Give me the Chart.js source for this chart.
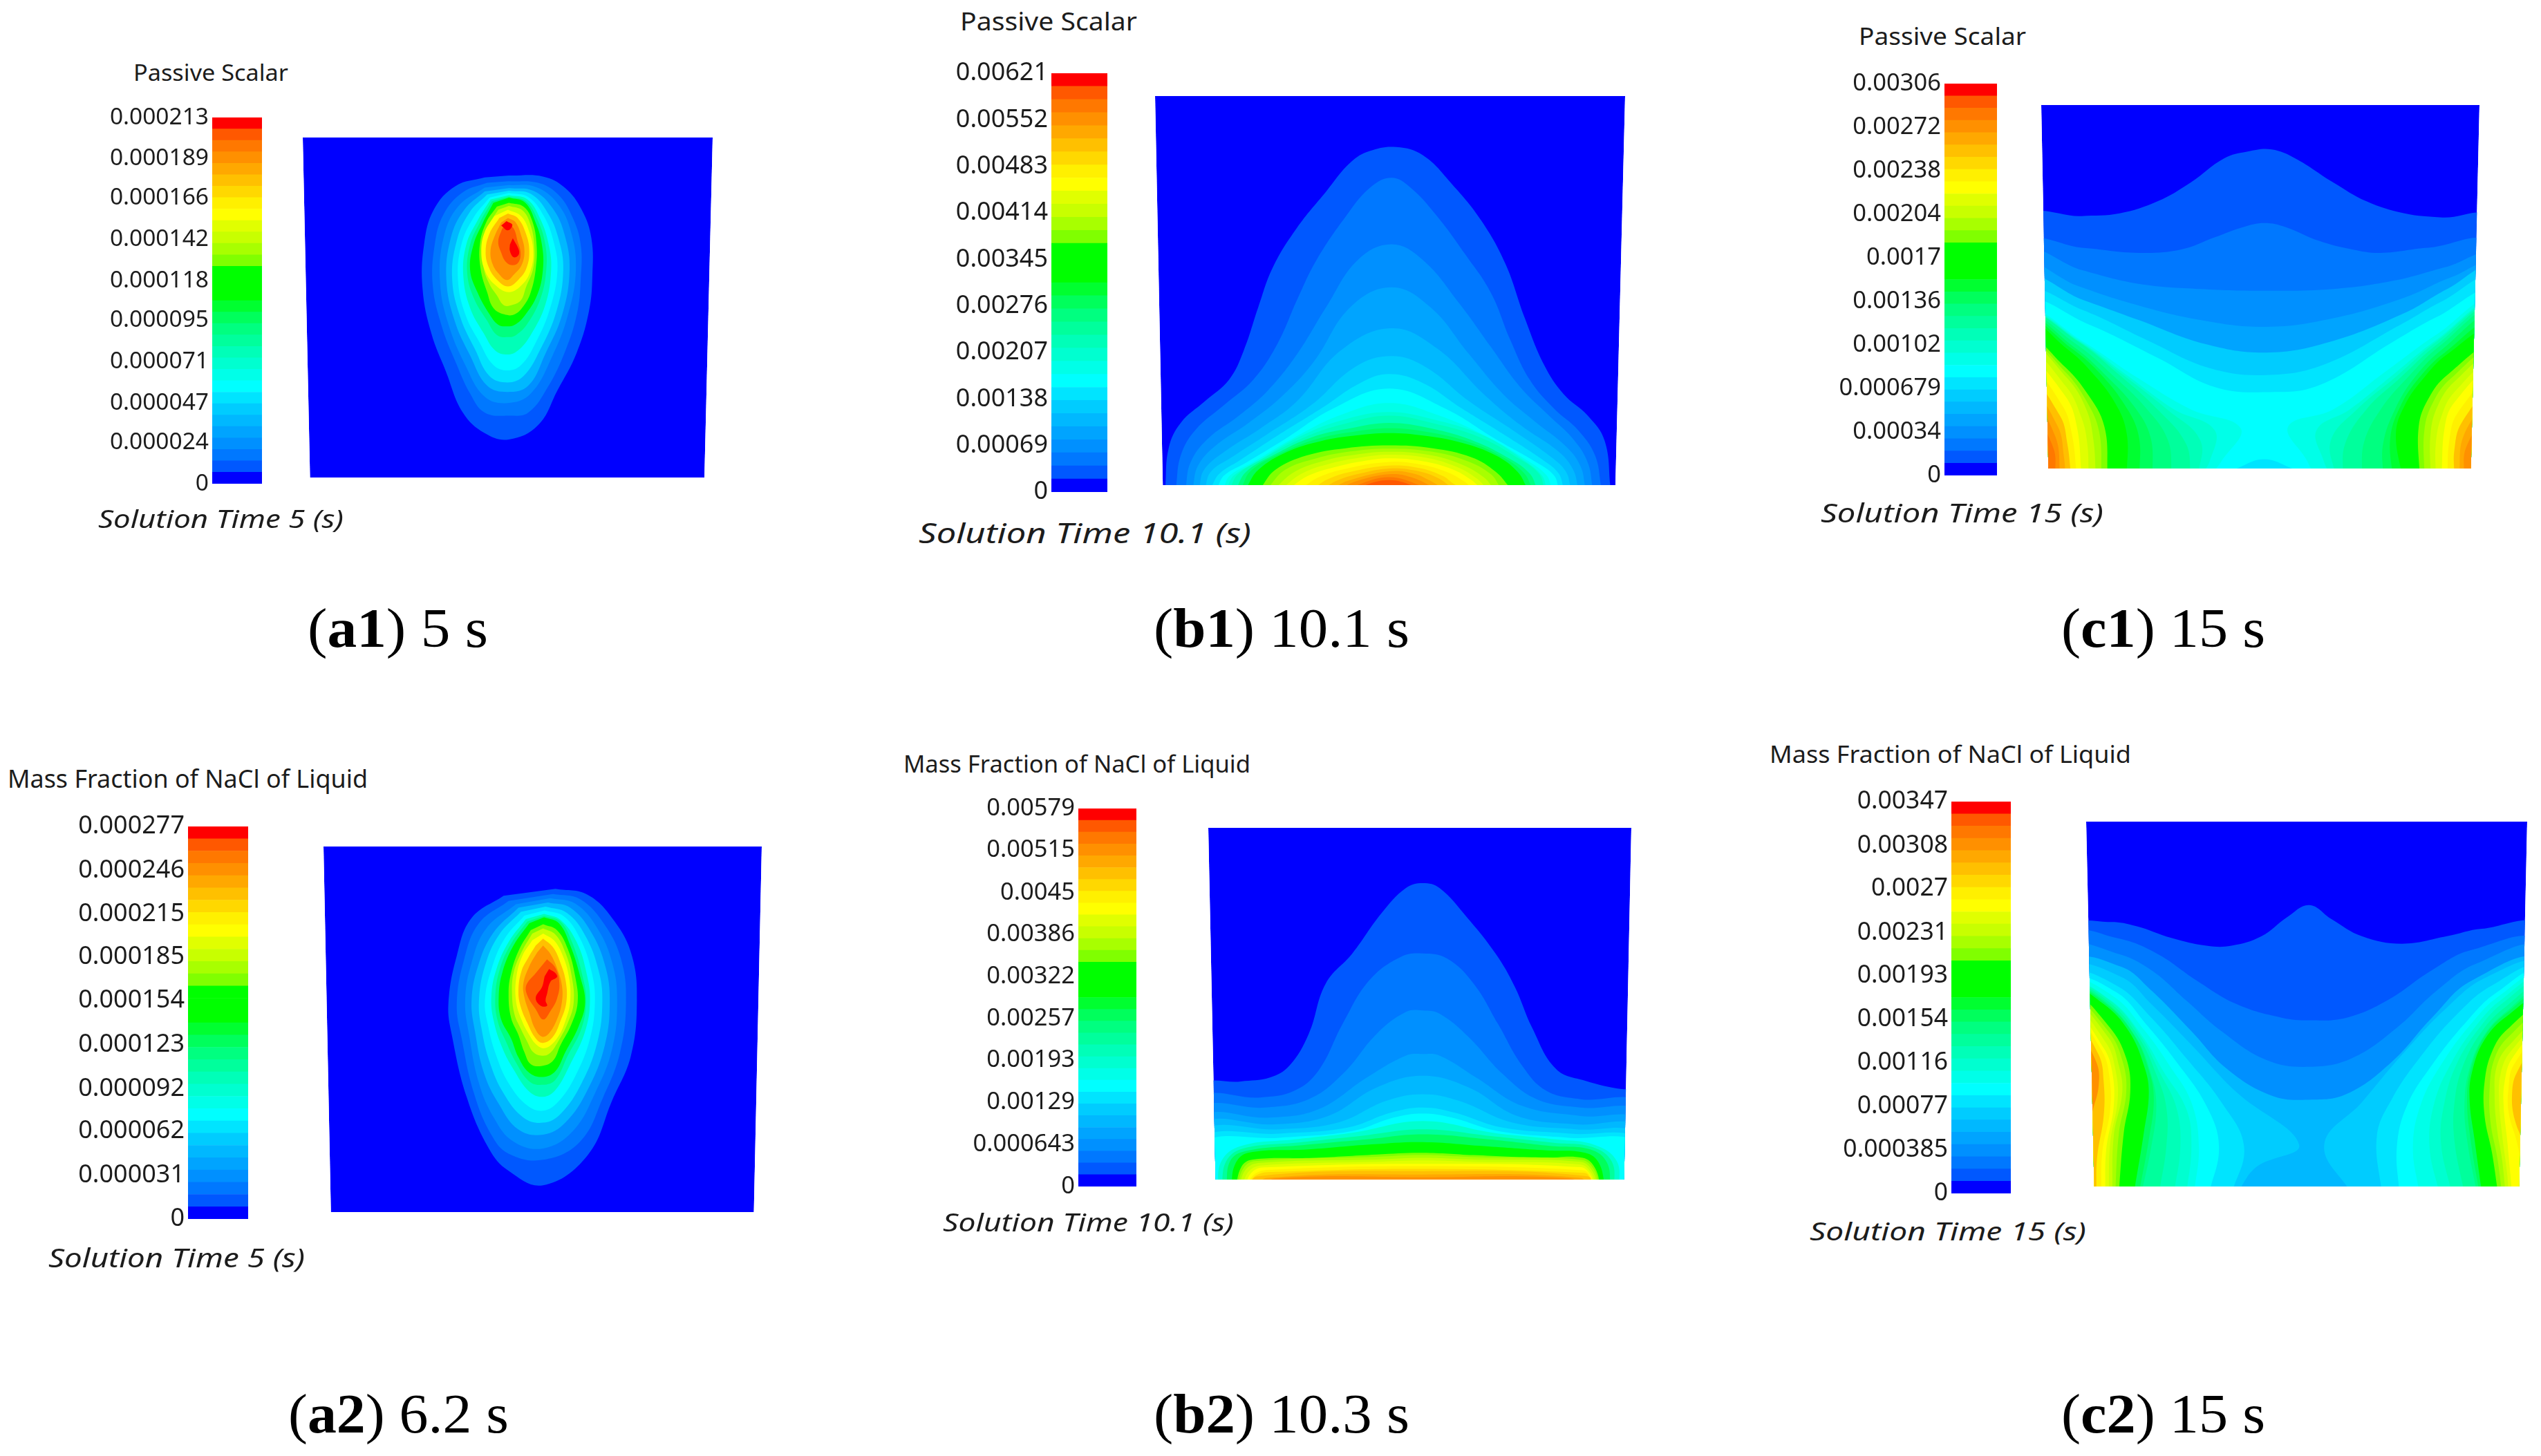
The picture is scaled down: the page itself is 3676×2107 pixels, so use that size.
<!DOCTYPE html>
<html><head><meta charset="utf-8">
<script src="https://cdn.jsdelivr.net/npm/chart.js@4"></script>
<style>
html,body{margin:0;padding:0;background:#fff;}
#page{position:relative;width:3676px;height:2107px;overflow:hidden;background:#fff;}
canvas{position:absolute;}
.t{position:absolute;white-space:nowrap;transform-origin:left center;line-height:1;color:#1c1c1c;}
</style></head><body><div id="page"></div>
<script>
// colour bar: 32 bands, lowest first
const bandColors=['#0000ff','#0058ff','#0078ff','#0090ff','#00a4ff','#00b8ff','#00ccff','#00e4ff','#00ffff','#00ffe8','#00ffd0','#00ffb8','#00ff9c','#00ff80','#00ff5c','#00ff30','#00ff00','#00ff00','#00ff00','#80ff00','#a8ff00','#c8ff00','#e0ff00','#ffff00','#fff000','#ffd800','#ffc000','#ffa800','#ff9000','#ff7800','#ff5800','#ff0000'];

// tick labels
const a1Ticks=['0','0.000024','0.000047','0.000071','0.000095','0.000118','0.000142','0.000166','0.000189','0.000213'];
const b1Ticks=['0','0.00069','0.00138','0.00207','0.00276','0.00345','0.00414','0.00483','0.00552','0.00621'];
const c1Ticks=['0','0.00034','0.000679','0.00102','0.00136','0.0017','0.00204','0.00238','0.00272','0.00306'];
const a2Ticks=['0','0.000031','0.000062','0.000092','0.000123','0.000154','0.000185','0.000215','0.000246','0.000277'];
const b2Ticks=['0','0.000643','0.00129','0.00193','0.00257','0.00322','0.00386','0.0045','0.00515','0.00579'];
const c2Ticks=['0','0.000385','0.00077','0.00116','0.00154','0.00193','0.00231','0.0027','0.00308','0.00347'];

// contour outlines: flat x,y lists in each panel's field coordinates
const a1Outline=[625,302,1470,302,1453,1375,640,1375];
const a1Levels=[1,2,3,5,7,8,11,13,16,19,21,23,26,28,30,31,31];
const a1Contours=[
[1050,422,1120,425,1165,460,1200,530,1220,620,1222,740,1215,850,1190,980,1150,1100,1110,1210,1050,1255,1000,1235,955,1170,920,1040,890,920,872,780,875,640,895,530,940,455,1000,428],
[1050,440,1110,445,1150,480,1180,550,1198,640,1198,750,1190,860,1165,980,1130,1090,1090,1170,1050,1180,1000,1170,970,1110,940,1010,912,900,893,770,897,640,915,545,955,475,1005,445],
[1050,452,1105,458,1150,510,1178,600,1188,720,1172,860,1140,990,1095,1110,1047,1140,1000,1120,960,1020,925,890,908,760,915,620,945,520,1000,460],
[1050,462,1100,470,1140,525,1165,610,1175,720,1160,860,1125,985,1090,1085,1047,1105,1005,1085,970,990,938,880,921,750,930,620,958,530,1000,472],
[1050,470,1095,480,1130,540,1152,620,1162,720,1148,850,1115,970,1080,1055,1047,1075,1010,1055,980,970,950,870,933,750,942,630,968,540,1005,482],
[1050,477,1090,490,1122,550,1142,630,1150,720,1135,840,1105,950,1075,1020,1047,1037,1018,1020,990,950,960,860,945,750,952,640,977,555,1010,492],
[1050,484,1088,497,1115,560,1132,640,1137,720,1125,830,1095,925,1068,975,1047,987,1022,975,998,920,970,840,956,740,962,640,985,565,1012,498],
[1050,489,1085,503,1110,565,1125,640,1127,720,1115,810,1088,890,1065,925,1047,932,1025,925,1005,880,978,810,964,730,970,640,990,570,1015,503],
[1050,492,1083,507,1105,570,1118,640,1120,720,1108,800,1082,865,1062,893,1047,898,1028,893,1010,860,985,790,970,720,977,640,995,575,1018,508],
[1050,508,1080,520,1098,565,1107,640,1105,720,1095,790,1082,830,1062,860,1040,860,1018,840,1005,790,992,720,990,640,1003,570,1025,520],
[1050,518,1078,532,1094,575,1102,640,1100,715,1085,775,1075,815,1058,830,1040,832,1025,800,1010,765,998,715,995,640,1008,580,1028,530],
[1048,530,1075,550,1092,600,1100,660,1095,720,1078,765,1050,790,1020,765,1000,720,993,660,1000,600,1020,550],
[1048,542,1068,556,1085,605,1092,660,1086,715,1070,750,1048,772,1025,750,1008,710,1002,660,1010,605,1030,556],
[1048,556,1064,570,1076,615,1082,660,1076,705,1060,735,1046,752,1028,730,1016,700,1012,660,1020,615,1034,570],
[1047,572,1060,590,1068,630,1074,665,1070,695,1058,705,1044,695,1034,665,1028,630,1036,590],
[1045,566,1057,578,1048,595,1034,580],
[1058,620,1070,655,1070,672,1060,680,1052,660,1052,640]
];

const a2Outline=[655,272,1543,272,1527,1335,670,1335];
const a2Levels=[1,2,3,5,7,8,11,13,16,19,21,23,26,28,30,31];
const a2Contours=[
[1125,395,1190,412,1245,490,1280,590,1290,720,1278,880,1240,1010,1190,1170,1100,1257,1030,1215,990,1150,945,1000,915,820,908,730,925,590,955,480,1020,415],
[1120,410,1175,425,1225,500,1258,600,1268,720,1256,870,1222,1000,1175,1130,1100,1183,1030,1165,995,1110,960,990,935,830,925,730,940,600,970,495,1030,430],
[1115,422,1165,438,1210,510,1240,610,1250,720,1240,860,1205,990,1160,1100,1100,1150,1040,1130,1000,1060,970,960,950,820,942,720,955,610,985,510,1045,440],
[1110,435,1155,450,1197,520,1226,620,1235,720,1225,850,1190,980,1145,1075,1100,1110,1050,1095,1010,1020,980,930,962,810,955,720,968,620,998,525,1050,450],
[1105,447,1148,465,1185,530,1212,630,1220,720,1210,840,1178,960,1135,1050,1100,1075,1060,1060,1020,990,992,900,975,800,970,720,982,620,1010,530,1055,462],
[1103,458,1142,475,1175,540,1198,635,1205,720,1195,830,1165,940,1130,1015,1100,1040,1068,1025,1030,960,1005,880,988,790,982,720,995,630,1022,540,1062,473],
[1102,468,1135,485,1168,550,1188,640,1195,720,1185,810,1155,905,1125,980,1100,1000,1072,985,1040,920,1018,860,1000,780,995,710,1005,630,1030,550,1065,483],
[1102,474,1135,490,1160,555,1180,650,1187,720,1178,800,1150,880,1125,950,1100,965,1072,955,1045,900,1025,840,1008,780,1003,710,1012,630,1035,555,1068,490],
[1102,478,1132,495,1155,560,1175,650,1185,725,1172,795,1145,870,1125,925,1100,942,1072,930,1050,885,1035,830,1015,775,1010,710,1018,635,1040,560,1072,495],
[1100,498,1128,515,1150,570,1165,650,1170,725,1157,790,1135,850,1120,895,1098,910,1075,905,1062,870,1050,820,1035,770,1030,700,1035,640,1052,570,1075,515],
[1100,510,1125,528,1145,580,1158,650,1162,725,1150,785,1130,840,1112,875,1095,880,1080,870,1068,840,1054,800,1042,760,1037,700,1040,640,1056,580,1078,525],
[1100,525,1122,545,1140,590,1152,650,1155,720,1145,780,1128,830,1105,858,1088,850,1072,820,1056,775,1045,720,1046,650,1058,590,1078,545],
[1100,540,1120,565,1135,610,1146,665,1147,725,1135,780,1120,825,1100,843,1085,830,1068,785,1054,735,1050,690,1056,635,1070,595,1085,560],
[1100,560,1115,585,1128,625,1138,675,1138,725,1128,775,1112,815,1098,825,1083,800,1072,755,1062,710,1060,670,1072,620,1088,580],
[1108,600,1125,625,1133,670,1128,715,1115,750,1100,775,1085,745,1068,705,1066,675,1085,640],
[1112,628,1125,640,1128,652,1115,665,1108,700,1105,720,1108,735,1095,735,1085,712,1098,680,1103,650]
];

const b1Outline=[557,266,1527,266,1507,1342,573,1342];
const b1Levels=[1,2,3,4,5,6,7,8,9,10,11,13,14,16,19,20,21,22,23,24,25,26,27,28,29,30];
const b1Contours=[
[578,1350,585,1240,610,1170,660,1110,710,1050,740,970,770,850,800,740,850,630,910,530,960,450,1000,418,1055,407,1110,430,1170,510,1230,610,1280,730,1320,880,1360,1010,1400,1090,1450,1150,1485,1220,1497,1350],
[600,1350,610,1260,640,1190,700,1120,760,1050,810,950,850,830,890,720,950,600,1000,520,1045,492,1085,520,1140,600,1195,700,1250,810,1290,940,1330,1050,1380,1130,1430,1190,1465,1260,1478,1350],
[620,1350,630,1280,665,1215,730,1150,790,1080,850,980,910,850,975,720,1045,676,1110,720,1185,840,1250,960,1310,1070,1370,1150,1420,1215,1450,1280,1460,1350],
[635,1350,645,1290,680,1235,750,1170,820,1095,885,1000,960,850,1045,795,1125,850,1205,980,1275,1090,1340,1165,1405,1235,1435,1290,1445,1350],
[648,1350,658,1300,700,1250,775,1185,850,1110,940,970,1045,908,1140,965,1235,1090,1310,1175,1390,1250,1420,1300,1430,1350],
[660,1350,672,1305,715,1265,790,1200,880,1120,970,1015,1045,985,1115,1015,1205,1110,1295,1190,1375,1265,1405,1305,1415,1350],
[672,1350,690,1310,730,1275,810,1205,900,1130,980,1060,1040,1035,1110,1060,1190,1130,1280,1205,1360,1275,1390,1310,1400,1350],
[685,1350,700,1315,745,1280,825,1215,925,1130,1040,1075,1155,1130,1260,1215,1345,1280,1380,1315,1390,1350],
[698,1350,712,1315,760,1278,845,1210,940,1148,1040,1115,1140,1148,1245,1210,1330,1278,1365,1315,1375,1350],
[705,1350,720,1315,770,1275,860,1205,950,1160,1040,1140,1130,1160,1235,1205,1320,1275,1355,1315,1365,1350],
[712,1350,728,1312,778,1270,868,1208,955,1170,1040,1150,1128,1170,1228,1210,1312,1272,1350,1312,1360,1350],
[725,1350,745,1305,800,1260,880,1210,960,1185,1040,1170,1125,1185,1215,1220,1290,1270,1330,1310,1345,1350],
[735,1350,755,1302,815,1255,890,1215,965,1195,1040,1185,1118,1195,1203,1222,1275,1265,1318,1308,1335,1350],
[745,1350,770,1300,830,1250,900,1220,970,1205,1040,1198,1110,1205,1190,1225,1260,1260,1305,1305,1325,1350],
[775,1350,805,1300,870,1260,950,1240,1040,1232,1130,1240,1210,1265,1260,1305,1290,1350],
[790,1350,825,1300,890,1268,960,1249,1040,1241,1125,1249,1200,1275,1250,1312,1270,1350],
[805,1350,845,1305,905,1275,970,1258,1040,1250,1120,1258,1190,1285,1235,1320,1255,1350],
[820,1350,860,1310,920,1282,980,1266,1040,1258,1115,1266,1180,1292,1222,1325,1240,1350],
[835,1350,875,1315,935,1290,985,1276,1040,1268,1110,1276,1170,1298,1210,1328,1228,1350],
[860,1350,895,1320,950,1297,1040,1278,1105,1285,1160,1306,1195,1332,1210,1350],
[885,1350,915,1325,965,1304,1040,1288,1100,1294,1150,1316,1175,1340,1190,1350],
[905,1350,935,1328,980,1310,1040,1296,1095,1302,1140,1322,1170,1350],
[925,1350,955,1330,1040,1304,1090,1310,1125,1330,1150,1350],
[940,1350,975,1330,1040,1312,1085,1320,1135,1350],
[955,1350,1040,1320,1120,1350],
[970,1350,1040,1328,1105,1350]
];

const b2Outline=[653,265,1525,265,1510,1315,668,1315];
const b2Levels=[1,2,3,4,5,6,7,8,10,12,14,16,19,20,21,22,23,24,25,26,27,28];
const b2Contours=[
[640,1345,640,1038,720,1022,780,1010,820,975,860,880,895,730,950,640,1010,520,1060,445,1095,430,1130,445,1185,530,1245,640,1285,740,1320,860,1370,985,1430,1020,1505,1045,1540,1045,1540,1345],
[640,1345,640,1075,760,1070,830,1050,880,990,930,850,985,720,1050,650,1095,640,1145,655,1200,730,1250,850,1300,975,1350,1050,1420,1075,1540,1090,1540,1345],
[640,1345,640,1105,770,1100,860,1075,930,1000,1000,880,1060,815,1095,810,1130,820,1190,890,1260,1000,1330,1075,1420,1100,1540,1115,1540,1345],
[640,1345,640,1130,780,1130,880,1105,980,1010,1060,945,1095,940,1130,945,1205,1010,1300,1095,1420,1125,1540,1140,1540,1345],
[640,1345,640,1150,790,1150,900,1125,1000,1040,1095,1005,1190,1040,1290,1125,1410,1150,1540,1160,1540,1345],
[640,1345,640,1170,800,1165,920,1145,1020,1080,1095,1060,1170,1080,1280,1145,1410,1165,1540,1180,1540,1345],
[640,1345,640,1190,800,1178,940,1160,1030,1115,1095,1100,1160,1115,1260,1160,1400,1178,1540,1195,1540,1345],
[640,1345,640,1205,800,1190,950,1170,1035,1130,1095,1118,1155,1130,1250,1170,1395,1190,1540,1205,1540,1345],
[672,1345,680,1260,720,1215,830,1195,950,1175,1095,1140,1240,1175,1370,1195,1450,1212,1495,1260,1500,1345],
[680,1345,690,1260,725,1222,840,1204,965,1185,1095,1165,1235,1185,1365,1205,1445,1218,1485,1262,1490,1345],
[690,1345,698,1260,730,1230,850,1212,980,1195,1095,1180,1230,1195,1360,1215,1440,1225,1475,1265,1482,1345],
[700,1345,708,1270,735,1235,860,1225,990,1210,1095,1203,1220,1215,1350,1228,1430,1235,1458,1265,1472,1345],
[708,1345,722,1275,745,1255,870,1250,1000,1240,1095,1235,1200,1242,1340,1250,1425,1250,1450,1280,1463,1345],
[711,1345,726,1280,750,1260,1000,1247,1095,1242,1200,1248,1422,1256,1448,1285,1460,1345],
[715,1345,730,1285,760,1265,1000,1255,1095,1250,1200,1255,1420,1262,1445,1290,1457,1345],
[720,1345,738,1288,770,1272,1000,1262,1095,1258,1200,1262,1420,1270,1442,1295,1453,1345],
[725,1345,745,1290,780,1278,1095,1268,1420,1278,1440,1300,1450,1345],
[728,1345,750,1297,790,1285,1095,1275,1425,1287,1440,1303,1448,1345],
[731,1345,752,1302,800,1292,1095,1283,1428,1295,1438,1306,1446,1345],
[733,1345,755,1305,1095,1290,1435,1305,1445,1345],
[745,1345,775,1310,1095,1300,1420,1310,1438,1345],
[760,1345,790,1312,1095,1308,1400,1312,1430,1345]
];

const c1Outline=[515,265,1438,265,1420,1322,530,1322];
const c1Levels=[1,2,3,4,6,7,8,7,
 9,10,11,12,13,14,15,16,19,20,21,22,23,24,26,27,28,29,30,
 9,10,11,12,13,14,15,16,19,20,21,22,23,24,26,27,28];
const c1Contours=[
[490,1345,490,597,600,588,680,580,760,545,830,490,900,420,950,400,1000,394,1050,420,1130,490,1200,545,1280,580,1360,592,1460,598,1460,1345],
[490,1345,490,672,600,680,720,695,810,685,880,650,940,620,985,608,1030,620,1100,660,1170,685,1230,695,1330,680,1460,675,1460,1345],
[490,1345,490,700,600,745,720,785,850,800,990,805,1130,800,1260,775,1370,735,1460,708,1460,1345],
[490,1345,490,740,590,790,700,840,850,890,990,910,1130,885,1280,825,1380,765,1460,735,1460,1345],
[490,1345,490,775,600,830,720,890,860,960,990,985,1120,955,1280,870,1370,800,1460,745,1460,1345],
[490,1345,490,815,600,860,740,950,870,1030,990,1050,1110,1020,1270,905,1360,835,1460,775,1460,1345],
[490,1345,490,845,610,900,760,1000,880,1085,990,1100,1100,1080,1260,950,1350,880,1460,815,1460,1345],
[900,1345,930,1320,985,1295,1040,1320,1080,1345],
[490,1345,490,870,600,950,720,1060,830,1150,935,1205,895,1300,870,1345],
[490,1345,490,875,595,950,700,1055,795,1150,880,1210,870,1300,850,1345],
[490,1345,490,878,592,950,690,1052,780,1150,850,1240,845,1345],
[490,1345,490,880,590,950,680,1050,760,1150,820,1250,830,1345],
[490,1345,490,885,588,960,665,1050,735,1145,782,1240,790,1345],
[490,1345,490,890,585,970,650,1050,710,1140,745,1230,750,1345],
[490,1345,490,895,578,972,635,1040,690,1135,720,1225,722,1345],
[490,1345,490,900,570,975,620,1040,670,1130,695,1220,695,1345],
[490,1345,490,945,560,1020,610,1100,648,1200,655,1345],
[490,1345,490,955,565,1040,610,1125,637,1215,642,1345],
[490,1345,490,965,570,1060,610,1150,625,1240,630,1345],
[490,1345,490,985,568,1085,600,1175,612,1250,615,1345],
[490,1345,490,1010,565,1110,590,1200,600,1345],
[490,1345,490,1030,560,1140,580,1225,590,1345],
[490,1345,490,1060,555,1170,570,1250,578,1345],
[490,1345,490,1085,550,1200,563,1290,566,1345],
[490,1345,490,1110,545,1230,555,1345],
[490,1345,490,1150,540,1260,545,1345],
[490,1345,490,1200,538,1345],
[1460,1345,1460,840,1350,930,1240,1040,1130,1150,1035,1200,1075,1300,1090,1345],
[1460,1345,1460,850,1350,945,1255,1050,1165,1150,1095,1210,1110,1300,1125,1345],
[1460,1345,1460,855,1350,950,1262,1055,1180,1150,1125,1240,1135,1345],
[1460,1345,1460,860,1350,960,1270,1060,1200,1150,1155,1250,1150,1345],
[1460,1345,1460,870,1355,965,1285,1060,1230,1150,1195,1245,1190,1345],
[1460,1345,1460,885,1360,975,1300,1060,1260,1150,1235,1250,1235,1345],
[1460,1345,1460,905,1365,985,1310,1060,1270,1145,1250,1235,1255,1345],
[1460,1345,1460,925,1370,990,1320,1060,1280,1140,1262,1220,1275,1345],
[1460,1345,1460,975,1370,1050,1330,1120,1310,1200,1312,1345],
[1460,1345,1460,985,1378,1060,1340,1130,1322,1210,1322,1345],
[1460,1345,1460,1000,1385,1070,1350,1140,1335,1220,1335,1345],
[1460,1345,1460,1020,1385,1100,1358,1170,1346,1250,1346,1345],
[1460,1345,1460,1040,1385,1130,1365,1200,1358,1345],
[1460,1345,1460,1070,1392,1160,1375,1235,1370,1345],
[1460,1345,1460,1100,1400,1190,1385,1270,1385,1345],
[1460,1345,1460,1130,1405,1225,1395,1345],
[1460,1345,1460,1160,1410,1260,1405,1345]
];

const c2Outline=[660,262,1540,262,1524,1338,676,1338];
const c2Levels=[1,2,3,5,
 6,7,8,9,10,11,12,13,14,16,19,20,21,22,23,24,26,28,
 6,7,8,9,10,11,12,13,14,16,19,20,21,22,23,24,26];
const c2Contours=[
[640,1360,640,575,705,558,760,570,830,605,900,628,950,628,1010,600,1060,545,1105,508,1150,550,1210,600,1290,622,1380,600,1450,578,1560,578,1560,1360],
[640,1360,640,600,720,605,800,650,880,730,960,800,1050,840,1105,848,1180,840,1260,790,1350,700,1430,640,1560,625,1560,1360],
[640,1360,640,640,720,650,790,700,860,790,930,880,1020,965,1105,985,1190,960,1280,870,1360,760,1440,680,1560,645,1560,1360],
[640,1360,640,680,730,690,790,760,870,880,940,990,1030,1070,1105,1082,1180,1065,1270,970,1350,840,1430,730,1560,680,1560,1360],
[640,1360,640,700,730,720,790,800,870,920,960,1060,1085,1215,1000,1280,960,1360],
[640,1360,640,720,720,745,790,840,860,960,930,1090,975,1220,950,1360],
[640,1360,640,735,720,765,780,860,840,970,900,1100,925,1220,905,1360],
[640,1360,640,742,715,778,775,875,828,985,870,1090,885,1220,875,1360],
[640,1360,640,750,710,790,770,890,815,1000,860,1110,870,1220,860,1360],
[640,1360,640,753,708,790,768,893,808,1005,840,1105,848,1220,835,1360],
[640,1360,640,756,704,792,764,896,800,1008,820,1105,820,1220,805,1360],
[640,1360,640,760,700,795,760,900,790,1010,800,1100,790,1220,770,1360],
[640,1360,640,762,698,797,755,890,785,995,795,1080,785,1200,765,1360],
[640,1360,640,765,695,800,745,880,775,980,785,1060,775,1180,755,1360],
[640,1360,640,785,705,865,740,960,748,1060,735,1180,725,1360],
[640,1360,640,798,705,882,733,970,740,1060,725,1185,718,1360],
[640,1360,640,810,705,900,725,980,732,1060,715,1190,712,1360],
[640,1360,640,822,700,915,718,990,723,1080,708,1210,705,1360],
[640,1360,640,835,695,930,712,1000,715,1100,700,1230,698,1360],
[640,1360,640,845,692,940,706,1010,708,1110,692,1240,690,1360],
[640,1360,640,860,685,950,695,1030,695,1130,682,1250,680,1360],
[640,1200,640,880,680,970,685,1040,672,1120],
[1560,1360,1560,690,1460,720,1380,810,1290,950,1210,1090,1135,1215,1190,1360],
[1560,1360,1560,700,1470,745,1400,830,1330,950,1270,1080,1240,1190,1250,1360],
[1560,1360,1560,710,1480,765,1420,850,1350,980,1300,1100,1280,1220,1285,1360],
[1560,1360,1560,720,1485,775,1430,855,1370,975,1328,1095,1312,1220,1325,1360],
[1560,1360,1560,730,1490,785,1440,860,1390,970,1355,1090,1345,1220,1365,1360],
[1560,1360,1560,742,1493,795,1445,870,1400,975,1375,1090,1368,1210,1390,1360],
[1560,1360,1560,755,1497,808,1450,880,1412,982,1395,1090,1395,1205,1415,1360],
[1560,1360,1560,765,1500,820,1455,890,1425,990,1415,1090,1420,1200,1440,1360],
[1560,1360,1560,775,1500,825,1455,895,1427,995,1420,1085,1427,1200,1445,1360],
[1560,1360,1560,790,1500,835,1455,905,1430,1000,1425,1080,1435,1200,1450,1360],
[1560,1360,1560,820,1500,875,1470,940,1455,1030,1455,1130,1470,1240,1482,1360],
[1560,1360,1560,840,1502,898,1475,960,1465,1050,1467,1150,1480,1250,1490,1360],
[1560,1360,1560,860,1505,920,1480,980,1475,1070,1480,1170,1490,1260,1497,1360],
[1560,1360,1560,875,1507,940,1487,1005,1484,1085,1490,1185,1500,1300,1503,1360],
[1560,1360,1560,890,1510,960,1495,1030,1493,1100,1500,1200,1510,1360],
[1560,1360,1560,905,1513,980,1503,1045,1503,1120,1520,1210,1540,1360],
[1560,1300,1560,920,1520,1000,1510,1060,1515,1140,1540,1230]
];

// page layout of the six panels (CSS pixels)
const panels=[
 {ticks:a1Ticks,outline:a1Outline,levels:a1Levels,contours:a1Contours,field:[438,199,593,492],bar:[307,170,72,530],tickFont:33.5,
  title:['Passive Scalar',193,224,104,33],time:['Solution Time 5 (s)',142,355,751,36],cap:['a1',' 5 s',445,261,909]},
 {ticks:b1Ticks,outline:b1Outline,levels:b1Levels,contours:b1Contours,field:[1671,139,680,563],bar:[1521,106,81,606],tickFont:36,
  title:['Passive Scalar',1389,256,31,36],time:['Solution Time 10.1 (s)',1329,481,771,40],cap:['b1',' 10.1 s',1669,370,909]},
 {ticks:c1Ticks,outline:c1Outline,levels:c1Levels,contours:c1Contours,field:[2953,152,634,526],bar:[2813,121,76,567],tickFont:34.5,
  title:['Passive Scalar',2689,242,51,35],time:['Solution Time 15 (s)',2634,409,741,38],cap:['c1',' 15 s',2982,295,909]},
 {ticks:a2Ticks,outline:a2Outline,levels:a2Levels,contours:a2Contours,field:[468,1225,634,529],bar:[272,1196,87,568],tickFont:36,
  title:['Mass Fraction of NaCl of Liquid',11,521,1127,36],time:['Solution Time 5 (s)',70,371,1819,38],cap:['a2',' 6.2 s',417,319,2046]},
 {ticks:b2Ticks,outline:b2Outline,levels:b2Levels,contours:b2Contours,field:[1748,1198,612,509],bar:[1560,1170,84,547],tickFont:34.5,
  title:['Mass Fraction of NaCl of Liquid',1307,502,1104,35],time:['Solution Time 10.1 (s)',1364,421,1769,36],cap:['b2',' 10.3 s',1669,370,2046]},
 {ticks:c2Ticks,outline:c2Outline,levels:c2Levels,contours:c2Contours,field:[3018,1189,638,528],bar:[2823,1160,86,567],tickFont:35.5,
  title:['Mass Fraction of NaCl of Liquid',2560,523,1090,35],time:['Solution Time 15 (s)',2618,400,1782,36],cap:['c2',' 15 s',2982,295,2046]}
];

const page=document.getElementById('page');
function addCanvas(l,t,w,h){const c=document.createElement('canvas');c.width=w;c.height=h;c.style.left=l+'px';c.style.top=t+'px';c.style.width=w+'px';c.style.height=h+'px';page.appendChild(c);return c;}
function toPoints(flat){const p=[];for(let i=0;i<flat.length;i+=2)p.push({x:flat[i],y:flat[i+1]});return p;}

const outlineClip={id:'outlineClip',
 beforeDatasetsDraw(chart,args,opts){const {x,y}=chart.scales,c=chart.ctx,pts=opts.points;c.save();c.beginPath();pts.forEach((p,i)=>{const a=x.getPixelForValue(p.x),b=y.getPixelForValue(p.y);i?c.lineTo(a,b):c.moveTo(a,b);});c.closePath();c.clip();},
 afterDatasetsDraw(chart){chart.ctx.restore();}};

function drawField(p){
 const [l,t,w,h]=p.field, o=toPoints(p.outline);
 const xs=o.map(q=>q.x), ys=o.map(q=>q.y);
 const ds=[{data:o,backgroundColor:bandColors[0],tension:0,fill:'shape',showLine:true,pointRadius:0,borderWidth:0}];
 p.contours.forEach((c,i)=>ds.push({data:toPoints(c),backgroundColor:bandColors[p.levels[i]],tension:0.4,fill:'shape',showLine:true,pointRadius:0,borderWidth:0}));
 new Chart(addCanvas(l,t,w,h),{type:'scatter',data:{datasets:ds.reverse()},plugins:[outlineClip],
  options:{responsive:false,animation:false,events:[],layout:{padding:0},
   plugins:{legend:{display:false},tooltip:{enabled:false},outlineClip:{points:o}},
   scales:{x:{display:false,min:Math.min(...xs),max:Math.max(...xs)},y:{display:false,reverse:true,min:Math.min(...ys),max:Math.max(...ys)}}}});
}
function drawBar(p){
 const [l,t,w,h]=p.bar, axisW=200, pad=30;
 const vals=p.ticks.map(Number), top=vals[vals.length-1];
 const ds=bandColors.map(col=>({data:[top/bandColors.length],backgroundColor:col,stack:'s',categoryPercentage:1,barPercentage:1,borderWidth:0}));
 new Chart(addCanvas(l-axisW,t-pad,w+axisW,h+2*pad),{type:'bar',data:{labels:[''],datasets:ds},
  options:{responsive:false,animation:false,events:[],layout:{padding:{top:pad,bottom:pad}},
   plugins:{legend:{display:false},tooltip:{enabled:false}},
   scales:{x:{display:false,stacked:true},
    y:{stacked:true,min:0,max:top,border:{display:false},grid:{display:false,drawTicks:false},
     afterFit(s){s.width=axisW;},
     afterBuildTicks(s){s.ticks=vals.map(v=>({value:v}));},
     ticks:{autoSkip:false,padding:5,color:'#1c1c1c',font:{family:'"Noto Sans"',size:p.tickFont},
      callback(v){return p.ticks[vals.indexOf(v)];}}}}}});
}
function place(html,left,width,yc,size,css){
 const d=document.createElement('div');d.className='t';d.innerHTML=html;d.style.cssText+=css+';font-size:'+size+'px;left:'+left+'px;top:'+(yc-size/2)+'px';
 page.appendChild(d);
 const m=d.getBoundingClientRect().width;d.style.transform='scaleX('+(width/m)+')';
}
panels.forEach(p=>{
 drawField(p);drawBar(p);
 place(p.title[0],p.title[1],p.title[2],p.title[3],p.title[4],'font-family:"Noto Sans"');
 place(p.time[0],p.time[1],p.time[2],p.time[3],p.time[4],'font-family:"Noto Sans";font-style:italic');
 place('(<b>'+p.cap[0]+'</b>)'+p.cap[1],p.cap[2],p.cap[3],p.cap[4],80,'font-family:"Liberation Serif";color:#000');
});
</script></body></html>
